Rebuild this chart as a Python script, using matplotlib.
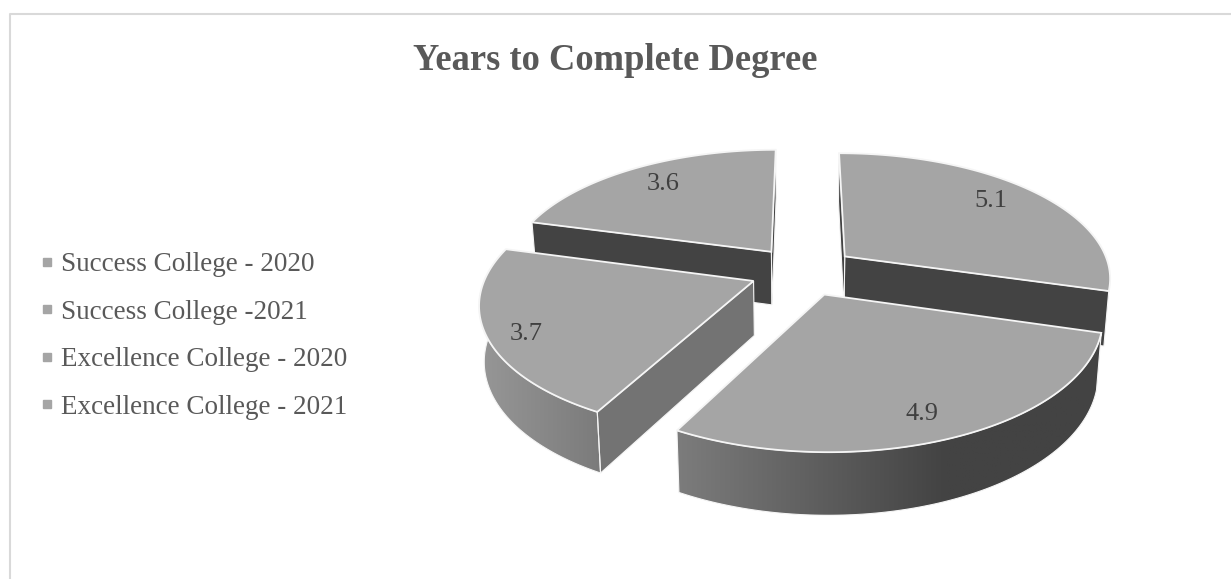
import matplotlib
matplotlib.use("Agg")
import matplotlib.pyplot as plt
from matplotlib.colors import LinearSegmentedColormap
from matplotlib.lines import Line2D
from matplotlib.patches import Polygon
import numpy as np

title = "Years to Complete Degree"
categories = ["Success College - 2020", "Success College -2021",
              "Excellence College - 2020", "Excellence College - 2021"]
values = [5.1, 4.9, 3.7, 3.6]

# perspective setup for the fake 3d pie, all in pixels of the figure
cx, cy = 803, 271
rx, ry = 266, 124
persp = 0.16
explode = 0.2
label_r = 0.85
label_nudge = [(-15, 1), (-10, 1), (-2, 8), (10, 4)]

TOP = "#a5a5a5"
DARK = "#434343"
MID = "#737373"
EDGE = "#f5f5f5"
TEXT = "#595959"
LABEL = "#404040"
SERIF = "Liberation Serif"


def project(u, v):
    s = 1 / (1 + persp * v)
    return cx + rx * u * s, cy - ry * v * s


def lower(x, y):
    # same points on the bottom face of the pie
    return cx + (x - cx) * 0.984, y + 53 + 0.05 * (y - 250)


def rim(a0, a1, off):
    t = np.radians(np.linspace(a0, a1, 120))
    return project(off[0] + np.sin(t), off[1] + np.cos(t))


def wall(x, y):
    xb, yb = lower(x, y)
    return np.column_stack([np.r_[x, xb[::-1]], np.r_[y, yb[::-1]]])


def flat_wall(ax, x, y, color, z):
    ax.add_patch(Polygon(wall(x, y), closed=True, fc=color, ec=EDGE, lw=0.8, zorder=z))


def shaded_wall(ax, x, y, c_left, c_right, x_stop, z):
    pts = wall(x, y)
    ax.add_patch(Polygon(pts, closed=True, fc="none", ec=EDGE, lw=0.8, zorder=z + 0.1))
    x0, x1 = pts[:, 0].min(), pts[:, 0].max()
    stop = min((x_stop - x0) / (x1 - x0), 1.0)
    colors = [(0, c_left), (stop, c_right), (1, c_right)] if stop < 1 else [(0, c_left), (1, c_right)]
    cmap = LinearSegmentedColormap.from_list("side", colors)
    im = ax.imshow(np.linspace(0, 1, 256)[None, :], cmap=cmap, aspect="auto", zorder=z,
                   extent=(x0, x1, pts[:, 1].max(), pts[:, 1].min()))
    im.set_clip_path(Polygon(pts, closed=True, transform=ax.transData))


fig = plt.figure(figsize=(12.31, 5.79), dpi=100)
ax = fig.add_axes([0, 0, 1, 1])

# slice angles clockwise from 12 o'clock
bounds = np.r_[0, np.cumsum(values)] / np.sum(values) * 360
mids = (bounds[:-1] + bounds[1:]) / 2
offs = [(explode * np.sin(np.radians(m)), explode * np.cos(np.radians(m))) for m in mids]

# back slices first so the front ones cover them
draw_z = {3: 2, 0: 3, 2: 5, 1: 6}
for i in [3, 0, 2, 1]:
    a0, a1 = bounds[i], bounds[i + 1]
    off = offs[i]
    z = draw_z[i]
    ax0, ay0 = project(off[0], off[1])
    rx_, ry_ = rim(a0, a1, off)

    if i == 0:
        flat_wall(ax, np.array([rx_[-1], ax0]), np.array([ry_[-1], ay0]), DARK, z)
        flat_wall(ax, np.array([ax0, rx_[0]]), np.array([ay0, ry_[0]]), DARK, z)
    elif i == 1:
        shaded_wall(ax, rx_, ry_, "#7c7c7c", DARK, 945, z)
    elif i == 2:
        shaded_wall(ax, rx_, ry_, "#979797", "#7b7b7b", 600, z)
        flat_wall(ax, np.array([rx_[0], ax0]), np.array([ry_[0], ay0]), MID, z)
    else:
        flat_wall(ax, np.array([rx_[0], ax0]), np.array([ry_[0], ay0]), DARK, z)
        flat_wall(ax, np.array([ax0, rx_[-1]]), np.array([ay0, ry_[-1]]), DARK, z)

    ax.add_patch(Polygon(np.column_stack([np.r_[ax0, rx_], np.r_[ay0, ry_]]), closed=True,
                         fc=TOP, ec=EDGE, lw=1.3, zorder=z + 0.5))

    m = np.radians(mids[i])
    lx, ly = project(off[0] + label_r * np.sin(m), off[1] + label_r * np.cos(m))
    ax.text(lx + label_nudge[i][0], ly + label_nudge[i][1], f"{values[i]:.1f}", ha="center",
            va="center", fontsize=19, family=SERIF, color=LABEL, zorder=10)

# chart frame, only left and top show in this crop
ax.plot([10, 10, 1231], [579, 13.5, 13.5], color="#d9d9d9", lw=1.5, zorder=1)

ax.text(615, 60, title, ha="center", va="center", fontsize=26.3, fontweight="bold",
        family=SERIF, color=TEXT)

handles = [Line2D([], [], ls="none", marker="s", ms=5.5, color=TOP) for _ in categories]
leg = ax.legend(handles, categories, loc="center left", bbox_to_anchor=(16, 336),
                bbox_transform=ax.transData, frameon=False, handlelength=0.5,
                handletextpad=0.26, labelspacing=0.83,
                prop={"family": SERIF, "size": 19.5})
for t in leg.get_texts():
    t.set_color(TEXT)

ax.set_xlim(0, 1231)
ax.set_ylim(579, 0)
ax.axis("off")

fig.savefig("out.png", dpi=100, facecolor="white")
